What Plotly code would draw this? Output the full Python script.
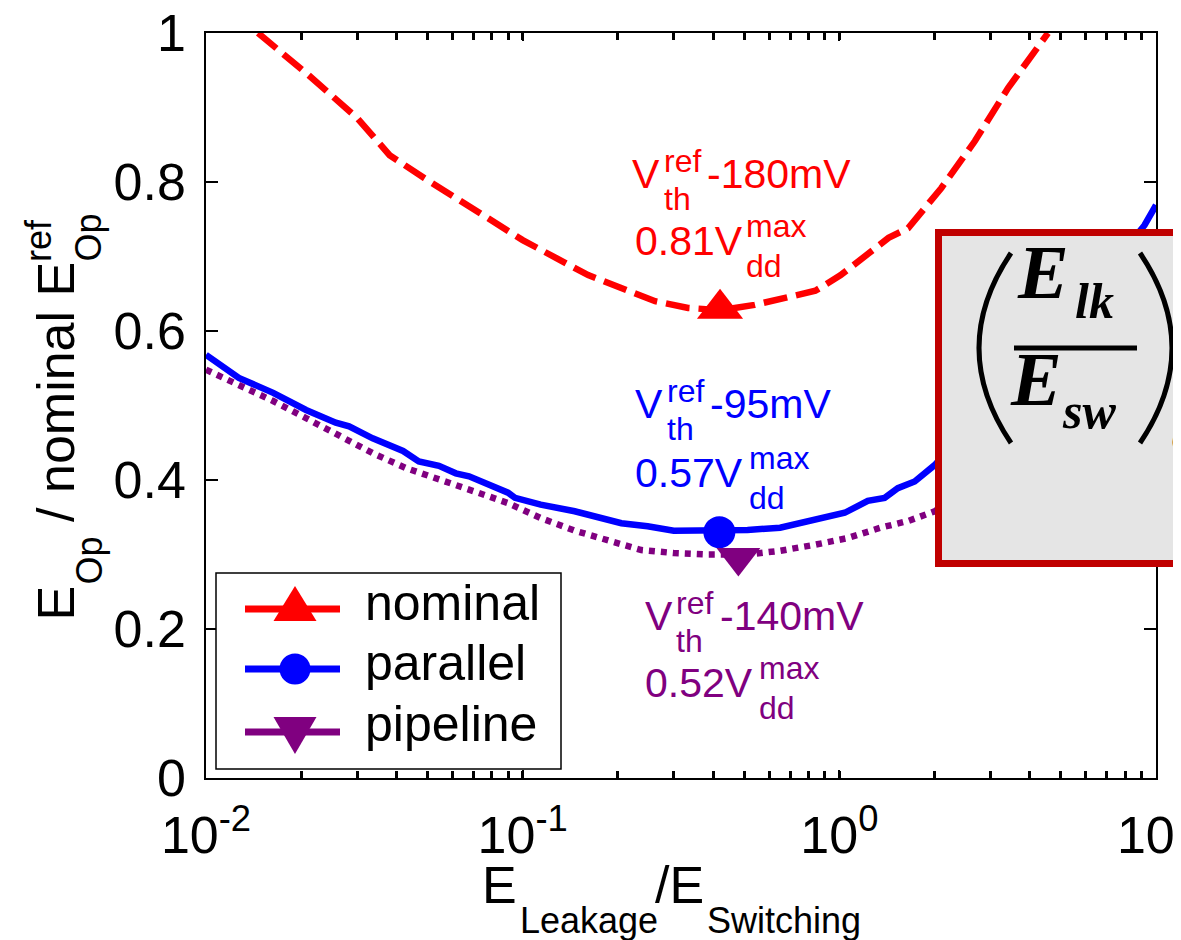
import plotly.graph_objects as go

# ---------------- data ----------------
nominal_x = [0.0146, 0.021, 0.030, 0.038, 0.049, 0.0625, 0.1, 0.161, 0.205, 0.262, 0.333,
             0.42, 0.54, 0.84, 1.01, 1.43, 1.65, 2.10, 2.68, 3.41, 4.56]
nominal_y = [1.0, 0.944, 0.886, 0.836, 0.805, 0.776, 0.722, 0.675, 0.658, 0.640, 0.631,
             0.628, 0.635, 0.654, 0.675, 0.725, 0.738, 0.792, 0.855, 0.926, 1.0]

parallel_x = [0.01, 0.0127, 0.0163, 0.0207, 0.0257, 0.0283, 0.0336, 0.0419, 0.047, 0.0544,
              0.0615, 0.0677, 0.0899, 0.0946, 0.114, 0.146, 0.205, 0.227, 0.248, 0.30, 0.414,
              0.513, 0.65, 0.835, 1.04, 1.23, 1.39, 1.53, 1.73, 2.0, 3.4, 5.6, 9.2, 10]
parallel_y = [0.568, 0.537, 0.517, 0.494, 0.477, 0.472, 0.456, 0.439, 0.425, 0.419,
              0.409, 0.405, 0.383, 0.376, 0.367, 0.358, 0.342, 0.341, 0.338, 0.332, 0.332,
              0.333, 0.336, 0.346, 0.356, 0.372, 0.376, 0.389, 0.398, 0.420, 0.53, 0.63, 0.742, 0.769]

pipeline_x = [0.01, 0.0127, 0.0163, 0.0207, 0.0263, 0.0336, 0.0428, 0.0544, 0.07, 0.0899,
              0.114, 0.146, 0.186, 0.237, 0.30, 0.38, 0.513, 0.65, 0.835, 1.06, 1.35, 1.65,
              2.0, 4.0, 10]
pipeline_y = [0.548, 0.528, 0.506, 0.483, 0.460, 0.436, 0.416, 0.400, 0.385, 0.369,
              0.349, 0.332, 0.318, 0.306, 0.302, 0.300, 0.300, 0.305, 0.313, 0.322, 0.336, 0.345,
              0.358, 0.45, 0.62]

series_names = ["nominal", "parallel", "pipeline"]
optimum_x = [0.42, 0.418, 0.48]
optimum_y = [0.63, 0.33, 0.296]
optimum_vth = ["-180mV", "-95mV", "-140mV"]
optimum_vdd = ["0.81", "0.57", "0.52"]

x_tickvals = [0.01, 0.1, 1, 10]
x_ticktext = ["10<sup>-2</sup>", "10<sup>-1</sup>", "10<sup>0</sup>", "10<sup>1</sup>"]
y_tickvals = [0, 0.2, 0.4, 0.6, 0.8, 1]
y_ticktext = ["0", "0.2", "0.4", "0.6", "0.8", "1"]

# ---------------- styling ----------------
RED, BLUE, PURPLE = "#FF0000", "#0000FF", "#800080"
colors = [RED, BLUE, PURPLE]
symbols = ["triangle-up", "circle", "triangle-down"]
msizes = [40, 32, 38]
dashes = ["24px,9px", "solid", "6px,6px"]
SANS = "Liberation Sans, Arial, sans-serif"
SERIF = "Liberation Serif, Times New Roman, serif"

W, H = 1181, 940
L, R, T, B = 198, 1148, 25, 770
CEN = 0.54   # baseline -> annotation-box centre offset (fraction of font size)
XOFF = 0.2   # left-edge correction (fraction of font size)


def px(x):
    return (x - L) / (R - L)


def py(y):
    return (B - y) / (B - T)


fig = go.Figure()
for xs, ys, c, d, n in zip([nominal_x, parallel_x, pipeline_x],
                           [nominal_y, parallel_y, pipeline_y], colors, dashes, series_names):
    fig.add_trace(go.Scatter(x=xs, y=ys, mode="lines", name=n, showlegend=False,
                             line=dict(color=c, width=6.5, dash=d)))
for i in range(3):
    fig.add_trace(go.Scatter(x=[optimum_x[i]], y=[optimum_y[i]], mode="markers",
                             showlegend=False, name=series_names[i] + " optimum",
                             marker=dict(symbol=symbols[i], size=msizes[i], color=colors[i])))

annotations = []


def piece(text, xl, base, size, color="black", family=SANS, angle=0):
    if angle == 0:
        annotations.append(dict(text=text, xref="paper", yref="paper", x=px(xl - XOFF * size),
                                y=py(base - CEN * size), xanchor="left", yanchor="middle",
                                showarrow=False, font=dict(size=size, color=color, family=family)))
    else:
        # rotated -90: xl = baseline x position, base = start (bottom) y position
        annotations.append(dict(text=text, xref="paper", yref="paper", x=px(xl - CEN * size),
                                y=py(base), xanchor="center", yanchor="bottom", textangle=-90,
                                showarrow=False, font=dict(size=size, color=color, family=family)))


# value labels near optima (pixel positions of text pieces)
label_pos = [
    # V x, line1 baseline, sub x, rest x, line2 x, line2 baseline, max x
    (630, 188, 660, 705, 633, 255, 742),
    (633, 418, 663, 708, 633, 487, 745),
    (643, 630, 672, 718, 643, 697, 755),
]
BIG, SMALL = 41, 32
for i, (vx, b1, sx, rx, l2x, b2, mx) in enumerate(label_pos):
    c = colors[i]
    piece("V", vx, b1, BIG, c)
    piece("ref", sx, b1 - 18, SMALL, c)
    piece("th", sx, b1 + 20, SMALL, c)
    piece(optimum_vth[i], rx, b1, BIG, c)
    piece(optimum_vdd[i] + "V", l2x, b2, BIG, c)
    piece("max", mx, b2 - 20, SMALL, c)
    piece("dd", mx, b2 + 20, SMALL, c)

# legend text
legend_base = [622, 682, 743]
for n, b in zip(series_names, legend_base):
    piece(n, 365, b, 50)

# x-axis title
piece("E", 482, 905, 52)
piece("Leakage", 517, 932, 36)
piece("/E", 655, 905, 52)
piece("Switching", 704, 932, 36)

# y-axis title (rotated)
piece("E", 76, 614, 52, angle=-90)
piece("Op", 100, 579, 36, angle=-90)
piece("/ nominal E", 76, 516, 52, angle=-90)
piece("Op", 100, 256, 36, angle=-90)
piece("ref", 50, 256, 36, angle=-90)

# formula in the box
piece("<b><i>E</i></b>", 1022, 305, 76, family=SERIF)
piece("<b><i>lk</i></b>", 1075, 320, 50, family=SERIF)
piece("<b><i>E</i></b>", 1015, 412, 76, family=SERIF)
piece("<b><i>sw</i></b>", 1062, 430, 50, family=SERIF)
piece("<b><i>opt</i></b>", 1171, 452, 46, family=SERIF)

shapes = []
# highlighted box
shapes.append(dict(type="rect", xref="paper", yref="paper", x0=px(930.5), x1=px(1260),
                   y0=py(555.5), y1=py(224.5), line=dict(color="#C00000", width=7),
                   fillcolor="#E5E5E5", layer="above"))


def P(x, y):
    return f"{px(x):.5f},{py(y):.5f}"


shapes.append(dict(type="path", xref="paper", yref="paper",
                   path=f"M{P(1003,245)} Q{P(939,340)} {P(1003,435)}",
                   line=dict(color="black", width=5), layer="above"))
shapes.append(dict(type="path", xref="paper", yref="paper",
                   path=f"M{P(1132,245)} Q{P(1196,340)} {P(1132,435)}",
                   line=dict(color="black", width=5), layer="above"))
shapes.append(dict(type="line", xref="paper", yref="paper", x0=px(1006), x1=px(1129),
                   y0=py(340), y1=py(340), line=dict(color="black", width=5), layer="above"))

# legend box
shapes.append(dict(type="rect", xref="paper", yref="paper", x0=px(208), x1=px(553),
                   y0=py(761), y1=py(565), line=dict(color="black", width=1.5),
                   fillcolor="white", layer="above"))
legend_line_y = [601, 661, 724]
for c, ly in zip(colors, legend_line_y):
    shapes.append(dict(type="line", xref="paper", yref="paper", x0=px(237), x1=px(332),
                       y0=py(ly), y1=py(ly), line=dict(color=c, width=7), layer="above"))
shapes.append(dict(type="path", xref="paper", yref="paper",
                   path=f"M{P(265.5,613)} L{P(308.5,613)} L{P(287,578)} Z",
                   fillcolor=RED, line=dict(width=0), layer="above"))
shapes.append(dict(type="circle", xref="paper", yref="paper", x0=px(271.5), x1=px(302.5),
                   y0=py(676.5), y1=py(645.5), fillcolor=BLUE, line=dict(width=0), layer="above"))
shapes.append(dict(type="path", xref="paper", yref="paper",
                   path=f"M{P(265.5,709)} L{P(308.5,709)} L{P(287,746)} Z",
                   fillcolor=PURPLE, line=dict(width=0), layer="above"))

fig.update_layout(
    width=W, height=H,
    margin=dict(l=L, r=W - R, t=T, b=H - B, autoexpand=False),
    paper_bgcolor="white", plot_bgcolor="white",
    showlegend=False,
    font=dict(family=SANS, color="black"),
    annotations=annotations,
    shapes=shapes,
    xaxis=dict(type="log", range=[-2, 1], tickvals=x_tickvals, ticktext=x_ticktext,
               tickfont=dict(size=52, family=SANS, color="black"),
               ticks="inside", ticklen=8, tickwidth=2, tickcolor="black",
               showline=True, linecolor="black", linewidth=1.5, mirror="ticks",
               showgrid=False, zeroline=False, ticklabelstandoff=11,
               ticklabeloverflow="allow",
               minor=dict(ticks="inside", ticklen=7, tickwidth=3, tickcolor="black",
                          dtick="D1", showgrid=False)),
    yaxis=dict(range=[0, 1], tickvals=y_tickvals, ticktext=y_ticktext,
               tickfont=dict(size=52, family=SANS, color="black"),
               ticks="inside", ticklen=12, tickwidth=2, tickcolor="black",
               showline=True, linecolor="black", linewidth=1.5, mirror="ticks",
               showgrid=False, zeroline=False, ticklabelstandoff=8,
               ticklabeloverflow="allow"),
)

fig.write_html("out.html")
